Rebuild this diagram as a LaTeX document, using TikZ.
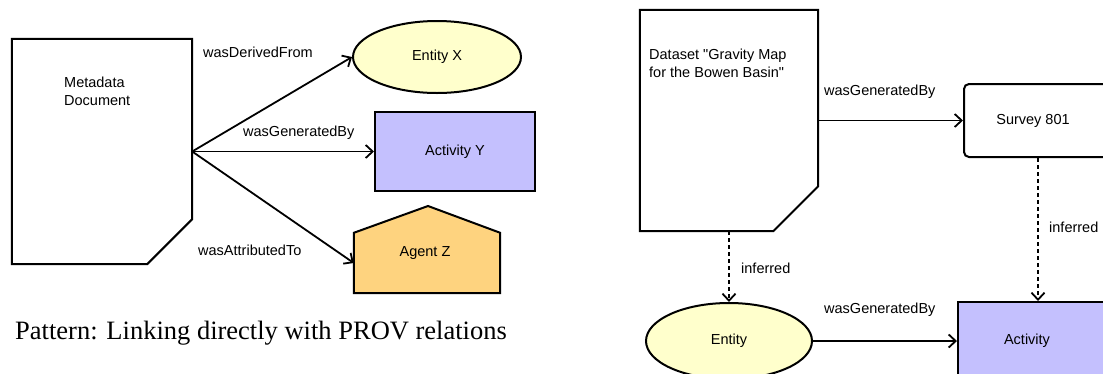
\documentclass[tikz,border=0pt]{standalone}
\usepackage{fontspec}
\setmainfont{Liberation Serif}
\newfontfamily\labelfont{Liberation Sans}
\usetikzlibrary{arrows.meta,shapes.geometric}
\definecolor{entityfill}{HTML}{FFFFCC}
\definecolor{activityfill}{HTML}{C4C0FE}
\definecolor{agentfill}{HTML}{FED37F}

\begin{document}
\begin{tikzpicture}[x=1pt,y=-1pt,
  lbl/.style={font=\labelfont\fontsize{14.5}{18}\selectfont, inner sep=0pt},
  frame/.style={inner sep=0pt, font=\labelfont\fontsize{14.5}{18}\selectfont},
  outline/.style={draw=black, line width=2pt, line join=miter},
  rel/.style={line width=1.8pt, -{Straight Barb[length=7pt,width=13pt]}},
  inferredrel/.style={rel, dash pattern=on 4pt off 3pt},
  entitynode/.style={frame, ellipse, outline, fill=entityfill},
  activitynode/.style={frame, rectangle, outline, fill=activityfill},
]
\useasboundingbox (0,0) rectangle (1103,373);
\clip (0,0) rectangle (1103,373);

% ---------- left: linking directly with PROV relations ----------
\node[frame, minimum width=180pt, minimum height=225pt] (meta) at (102,151.5) {};
\draw[outline] (meta.north west) -- (meta.north east)
  -- ([yshift=45pt]meta.south east) -- ([xshift=-45pt]meta.south east)
  -- (meta.south west) -- cycle;
\node[lbl, anchor=north west, align=left] (metatext) at (64,77) {Metadata\\Document};

\node[entitynode, minimum width=168pt, minimum height=72pt] (entityx) at (437,57) {Entity X};
\node[activitynode, minimum width=160pt, minimum height=79pt] (activityy) at (455,151.5) {Activity Y};

\node[frame, minimum width=146pt, minimum height=60pt] (agentz) at (427,263) {};
\draw[outline, fill=agentfill] (agentz.north west) -- (428,206) -- (agentz.north east)
  -- (agentz.south east) -- (agentz.south west) -- cycle;
\node[lbl] (agentztext) at (425,253) {Agent Z};

\draw[rel] (meta.east) -- (entityx.west);
\draw[rel] (meta.east) -- (activityy.west);
\draw[rel] (meta.east) -- (agentz.west);

\node[lbl, anchor=west] (lderived) at (203,52) {wasDerivedFrom};
\node[lbl, anchor=west] (lgenerated) at (243,133) {wasGeneratedBy};
\node[lbl, anchor=west] (lattributed) at (198,250) {wasAttributedTo};

\node[anchor=base west, inner sep=0pt, font=\rmfamily\fontsize{26.5}{30}\selectfont]
  (caption) at (15,339) {Pattern: Linking directly with PROV relations};

% ---------- right: dataset example ----------
\node[frame, minimum width=178pt, minimum height=221pt] (dataset) at (729,120.5) {};
\draw[outline] (dataset.north west) -- (dataset.north east)
  -- ([yshift=45pt]dataset.south east) -- ([xshift=-45pt]dataset.south east)
  -- (dataset.south west) -- cycle;
\node[lbl, anchor=north west, align=left] (datasettext) at (649,49)
  {Dataset "Gravity Map\\for the Bowen Basin"};

\node[frame, draw=black, line width=2pt, rounded corners=5pt,
  minimum width=148pt, minimum height=73pt] (survey) at (1038,120.5) {\hspace*{-10pt}Survey 801};

\node[entitynode, minimum width=166pt, minimum height=76pt] (entity) at (729,341) {Entity};
\node[activitynode, minimum width=160pt, minimum height=78pt] (activity) at (1038,341) {\hspace*{-22pt}Activity};

\draw[rel] (dataset.east) -- (survey.west);
\draw[inferredrel] (dataset.south) -- (entity.north);
\draw[inferredrel] (survey.south) -- (activity.north);
\draw[rel] (entity.east) -- (activity.west);

\node[lbl, anchor=west] (lgenerated2) at (824,92) {wasGeneratedBy};
\node[lbl, anchor=west] (lgenerated3) at (824,310) {wasGeneratedBy};
\node[lbl, anchor=west] (linferred1) at (741,268) {inferred};
\node[lbl, anchor=west] (linferred2) at (1049,227) {inferred};
\end{tikzpicture}
\end{document}
